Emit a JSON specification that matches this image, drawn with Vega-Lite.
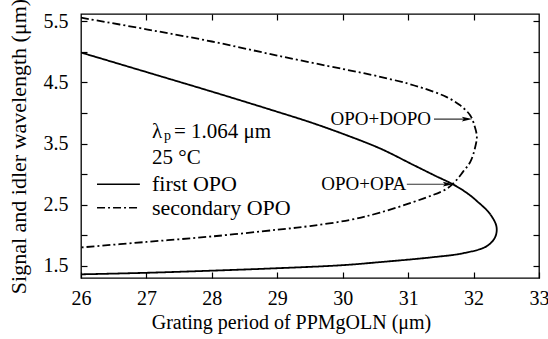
{
  "$schema": "https://vega.github.io/schema/vega-lite/v6.json",
  "width": 458,
  "height": 264,
  "autosize": "none",
  "padding": {"left": 81, "top": 14, "right": 9, "bottom": 61},
  "background": "white",
  "config": {
    "font": "Liberation Serif",
    "view": {"stroke": "black", "strokeWidth": 1.3},
    "axis": {
      "domain": false,
      "grid": false,
      "tickColor": "black",
      "tickSize": -6,
      "tickWidth": 1.2,
      "labelColor": "black",
      "titleColor": "black",
      "labelFont": "Liberation Serif",
      "titleFont": "Liberation Serif",
      "labelFontSize": 20,
      "titleFontSize": 20,
      "titleFontWeight": "normal",
      "labelFlush": false,
      "labelOverlap": false
    }
  },
  "datasets": {
    "curves": [
      {"s": "first OPO", "i": 0, "x": 26.0, "y": 4.99},
      {"s": "first OPO", "i": 1, "x": 27.0, "y": 4.67},
      {"s": "first OPO", "i": 2, "x": 28.0, "y": 4.35},
      {"s": "first OPO", "i": 3, "x": 29.0, "y": 4.02},
      {"s": "first OPO", "i": 4, "x": 29.5, "y": 3.85},
      {"s": "first OPO", "i": 5, "x": 30.0, "y": 3.66},
      {"s": "first OPO", "i": 6, "x": 30.57, "y": 3.42},
      {"s": "first OPO", "i": 7, "x": 31.08, "y": 3.15},
      {"s": "first OPO", "i": 8, "x": 31.4, "y": 2.98},
      {"s": "first OPO", "i": 9, "x": 31.69, "y": 2.83},
      {"s": "first OPO", "i": 10, "x": 31.9, "y": 2.69},
      {"s": "first OPO", "i": 11, "x": 32.05, "y": 2.56},
      {"s": "first OPO", "i": 12, "x": 32.25, "y": 2.35},
      {"s": "first OPO", "i": 13, "x": 32.35, "y": 2.14},
      {"s": "first OPO", "i": 14, "x": 32.33, "y": 1.97},
      {"s": "first OPO", "i": 15, "x": 32.2, "y": 1.82},
      {"s": "first OPO", "i": 16, "x": 31.84, "y": 1.705},
      {"s": "first OPO", "i": 17, "x": 31.33, "y": 1.635},
      {"s": "first OPO", "i": 18, "x": 30.57, "y": 1.56},
      {"s": "first OPO", "i": 19, "x": 30.0, "y": 1.51},
      {"s": "first OPO", "i": 20, "x": 29.0, "y": 1.46},
      {"s": "first OPO", "i": 21, "x": 28.0, "y": 1.42},
      {"s": "first OPO", "i": 22, "x": 27.0, "y": 1.385},
      {"s": "first OPO", "i": 23, "x": 26.0, "y": 1.36},
      {"s": "secondary OPO", "i": 0, "x": 26.0, "y": 5.56},
      {"s": "secondary OPO", "i": 1, "x": 27.0, "y": 5.37},
      {"s": "secondary OPO", "i": 2, "x": 28.0, "y": 5.17},
      {"s": "secondary OPO", "i": 3, "x": 29.0, "y": 4.94},
      {"s": "secondary OPO", "i": 4, "x": 30.0, "y": 4.72},
      {"s": "secondary OPO", "i": 5, "x": 30.5, "y": 4.61},
      {"s": "secondary OPO", "i": 6, "x": 31.0, "y": 4.48},
      {"s": "secondary OPO", "i": 7, "x": 31.33, "y": 4.37},
      {"s": "secondary OPO", "i": 8, "x": 31.59, "y": 4.26},
      {"s": "secondary OPO", "i": 9, "x": 31.79, "y": 4.13},
      {"s": "secondary OPO", "i": 10, "x": 31.95, "y": 3.96},
      {"s": "secondary OPO", "i": 11, "x": 32.02, "y": 3.77},
      {"s": "secondary OPO", "i": 12, "x": 32.05, "y": 3.61},
      {"s": "secondary OPO", "i": 13, "x": 32.02, "y": 3.42},
      {"s": "secondary OPO", "i": 14, "x": 31.95, "y": 3.2},
      {"s": "secondary OPO", "i": 15, "x": 31.84, "y": 3.04},
      {"s": "secondary OPO", "i": 16, "x": 31.72, "y": 2.88},
      {"s": "secondary OPO", "i": 17, "x": 31.59, "y": 2.76},
      {"s": "secondary OPO", "i": 18, "x": 31.23, "y": 2.6},
      {"s": "secondary OPO", "i": 19, "x": 30.57, "y": 2.37},
      {"s": "secondary OPO", "i": 20, "x": 30.11, "y": 2.25},
      {"s": "secondary OPO", "i": 21, "x": 29.5, "y": 2.15},
      {"s": "secondary OPO", "i": 22, "x": 29.0, "y": 2.09},
      {"s": "secondary OPO", "i": 23, "x": 28.0, "y": 1.98},
      {"s": "secondary OPO", "i": 24, "x": 27.0, "y": 1.89},
      {"s": "secondary OPO", "i": 25, "x": 26.0, "y": 1.8}
    ],
    "legendLines": [
      {"s": "first OPO", "x": 26.245, "x2": 26.9, "y": 2.835},
      {"s": "secondary OPO", "x": 26.245, "x2": 26.9, "y": 2.45}
    ],
    "infoTexts": [
      {"t": "λ", "x": 27.085, "y": 3.69},
      {"t": "= 1.064 μm", "x": 27.42, "y": 3.69},
      {"t": "25 °C", "x": 27.085, "y": 3.256}
    ],
    "legendTexts": [
      {"t": "first OPO", "x": 27.085, "y": 2.835},
      {"t": "secondary OPO", "x": 27.085, "y": 2.45}
    ],
    "subTexts": [
      {"t": "p", "x": 27.27, "y": 3.63}
    ],
    "rightTexts": [
      {"t": "OPO+DOPO", "x": 31.35, "y": 3.9},
      {"t": "OPO+OPA", "x": 30.97, "y": 2.835}
    ],
    "arrows": [
      {"x": 31.395, "x2": 31.9, "y": 3.9, "hx": 31.9},
      {"x": 30.98, "x2": 31.61, "y": 2.835, "hx": 31.61}
    ]
  },
  "resolve": {"axis": {"x": "independent", "y": "independent"}},
  "layer": [
    {
      "data": {"name": "curves"},
      "mark": {"type": "line", "color": "black", "strokeWidth": 1.8, "clip": true, "interpolate": "catmull-rom"},
      "encoding": {
        "x": {"field": "x", "type": "quantitative",
              "scale": {"domain": [26, 33], "nice": false, "zero": false},
              "axis": {"orient": "bottom", "values": [26, 27, 28, 29, 30, 31, 32, 33], "title": "Grating period of PPMgOLN (μm)", "labelPadding": 16, "titlePadding": 4, "titleX": 210, "titleAlign": "center", "titleAnchor": null}},
        "y": {"field": "y", "type": "quantitative",
              "scale": {"domain": [1.3, 5.62], "nice": false, "zero": false},
              "axis": {"orient": "left", "values": [1.5, 2, 2.5, 3, 3.5, 4, 4.5, 5, 5.5], "labelExpr": "(datum.value * 2) % 2 == 1 ? format(datum.value, '.1f') : ''", "title": "Signal and idler wavelength (μm)", "titleFontSize": 22, "labelPadding": 19, "titlePadding": 13}},
        "order": {"field": "i", "type": "quantitative"},
        "strokeDash": {"field": "s", "type": "nominal",
                       "scale": {"domain": ["first OPO", "secondary OPO"], "range": [[1, 0], [8, 3, 2, 3]]},
                       "legend": null}
      }
    },
    {
      "data": {"name": "legendLines"},
      "mark": {"type": "rule", "color": "black", "strokeWidth": 1.6},
      "encoding": {
        "x": {"field": "x", "type": "quantitative",
              "axis": {"orient": "top", "values": [27, 28, 29, 30, 31, 32], "labels": false, "title": null}},
        "x2": {"field": "x2"},
        "y": {"field": "y", "type": "quantitative",
              "axis": {"orient": "right", "values": [1.5, 2, 2.5, 3, 3.5, 4, 4.5, 5, 5.5], "labels": false, "title": null}},
        "strokeDash": {"field": "s", "type": "nominal",
                       "scale": {"domain": ["first OPO", "secondary OPO"], "range": [[1, 0], [8, 3, 2, 3]]},
                       "legend": null}
      }
    },
    {
      "data": {"name": "arrows"},
      "mark": {"type": "rule", "color": "#333", "strokeWidth": 1.1},
      "encoding": {
        "x": {"field": "x", "type": "quantitative", "axis": null},
        "x2": {"field": "x2"},
        "y": {"field": "y", "type": "quantitative", "axis": null}
      }
    },
    {
      "data": {"name": "arrows"},
      "mark": {"type": "point", "shape": "M -1 -0.45 L 1 0 L -1 0.45 L -0.6 0 Z", "filled": true, "color": "black", "size": 110, "opacity": 1},
      "encoding": {
        "x": {"field": "hx", "type": "quantitative", "axis": null},
        "y": {"field": "y", "type": "quantitative", "axis": null}
      }
    },
    {
      "data": {"name": "infoTexts"},
      "mark": {"type": "text", "align": "left", "baseline": "middle", "fontSize": 21, "font": "Liberation Serif", "color": "black"},
      "encoding": {
        "x": {"field": "x", "type": "quantitative", "axis": null},
        "y": {"field": "y", "type": "quantitative", "axis": null},
        "text": {"field": "t"}
      }
    },
    {
      "data": {"name": "legendTexts"},
      "mark": {"type": "text", "align": "left", "baseline": "middle", "fontSize": 22, "font": "Liberation Serif", "color": "black"},
      "encoding": {
        "x": {"field": "x", "type": "quantitative", "axis": null},
        "y": {"field": "y", "type": "quantitative", "axis": null},
        "text": {"field": "t"}
      }
    },
    {
      "data": {"name": "subTexts"},
      "mark": {"type": "text", "align": "left", "baseline": "middle", "fontSize": 14, "font": "Liberation Serif", "color": "black"},
      "encoding": {
        "x": {"field": "x", "type": "quantitative", "axis": null},
        "y": {"field": "y", "type": "quantitative", "axis": null},
        "text": {"field": "t"}
      }
    },
    {
      "data": {"name": "rightTexts"},
      "mark": {"type": "text", "align": "right", "baseline": "middle", "fontSize": 19, "font": "Liberation Serif", "color": "black"},
      "encoding": {
        "x": {"field": "x", "type": "quantitative", "axis": null},
        "y": {"field": "y", "type": "quantitative", "axis": null},
        "text": {"field": "t"}
      }
    }
  ]
}
